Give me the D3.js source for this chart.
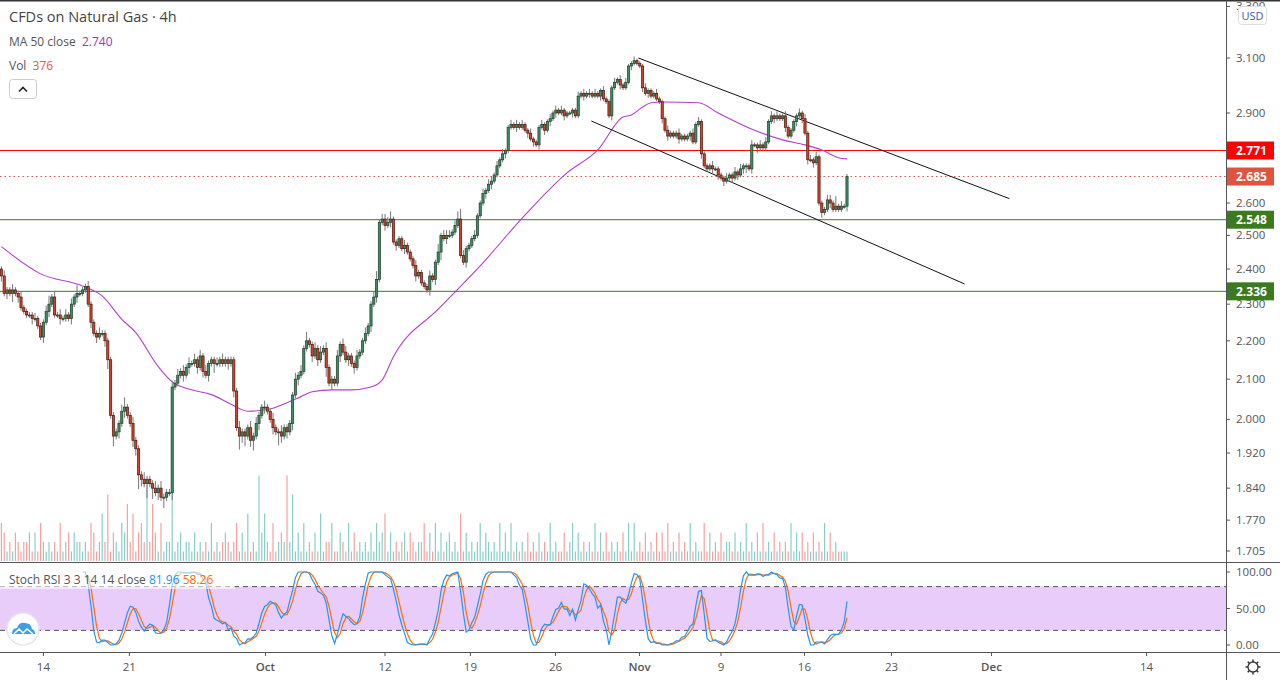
<!DOCTYPE html>
<html><head><meta charset="utf-8">
<script src="https://cdn.jsdelivr.net/npm/d3@7"></script>
<style>body{margin:0;background:#fff;overflow:hidden}svg{display:block;font-family:"Open Sans","DejaVu Sans",sans-serif}</style>
</head><body><svg id="c" width="1280" height="680"></svg>
<script>
const closes=[
2.38,2.33,2.34,2.33,2.34,2.33,2.32,2.29,2.28,2.27,
2.27,2.26,2.26,2.24,2.21,2.25,2.28,2.30,2.32,2.27,
2.27,2.26,2.26,2.27,2.26,2.30,2.32,2.33,2.33,2.34,
2.35,2.30,2.25,2.22,2.21,2.22,2.22,2.20,2.15,2.01,
1.96,1.97,1.99,2.02,2.03,2.01,1.99,1.95,1.93,1.87,
1.86,1.85,1.86,1.85,1.84,1.83,1.84,1.82,1.82,1.83,
1.83,2.08,2.09,2.11,2.12,2.11,2.13,2.14,2.14,2.15,
2.13,2.16,2.12,2.11,2.14,2.15,2.14,2.14,2.15,2.14,
2.15,2.14,2.15,2.07,1.98,1.96,1.97,1.96,1.98,1.95,
1.96,1.99,2.01,2.03,2.03,2.02,2.00,1.98,1.97,1.97,
1.96,1.98,1.97,1.99,2.06,2.10,2.11,2.12,2.18,2.20,
2.19,2.16,2.18,2.15,2.17,2.18,2.13,2.09,2.10,2.09,
2.16,2.19,2.17,2.15,2.16,2.14,2.13,2.16,2.17,2.20,
2.22,2.24,2.30,2.32,2.37,2.54,2.55,2.53,2.54,2.55,
2.48,2.47,2.49,2.46,2.47,2.45,2.43,2.41,2.38,2.39,
2.36,2.35,2.34,2.38,2.37,2.42,2.45,2.50,2.49,2.50,
2.50,2.51,2.53,2.55,2.44,2.42,2.46,2.47,2.49,2.50,
2.56,2.60,2.63,2.64,2.66,2.67,2.69,2.72,2.74,2.76,
2.77,2.85,2.86,2.85,2.86,2.85,2.86,2.84,2.83,2.81,
2.80,2.79,2.85,2.86,2.84,2.87,2.88,2.90,2.91,2.90,
2.91,2.89,2.90,2.90,2.91,2.89,2.96,2.97,2.96,2.97,
2.97,2.96,2.97,2.96,2.98,2.95,2.94,2.89,2.99,3.01,
3.02,3.00,2.99,3.01,3.07,3.08,3.09,3.08,3.07,2.99,
2.97,2.98,2.96,2.97,2.95,2.94,2.88,2.84,2.82,2.83,
2.82,2.83,2.81,2.82,2.81,2.82,2.83,2.80,2.86,2.87,
2.76,2.72,2.71,2.72,2.71,2.71,2.69,2.68,2.67,2.68,
2.69,2.68,2.70,2.69,2.71,2.72,2.72,2.71,2.79,2.79,
2.78,2.79,2.78,2.80,2.87,2.89,2.88,2.89,2.88,2.89,
2.85,2.82,2.84,2.87,2.89,2.90,2.88,2.83,2.74,2.74,
2.73,2.75,2.60,2.57,2.58,2.61,2.60,2.58,2.59,2.58,
2.59,2.59,2.685];
const firstOpen=2.40;
const wickUp="1211211211112111231212121213111211121111111231121112111212111212121212121211121211111211121211211211211112121311212121112122111211211231222311112111211112113122212342111211212212121121212112111211212121111121212121121112121211211121112111211121111212111121111211212111211212121211211112121212111221412111121211211111";
const wickDn="2121312111121112121112111212111121211231312121122421413121311211121211212121311112121423123121211214212121211112121131211211212111112121121212112111211112121312111111211111121211112111211121212121212112112111212111211121121112111212111121211121112111211121212112121231212111112111211121212121121121111121132111121";
const vol="4312132122313142121214123132212143125271321436251342826314122812312213121214121232124131512193521412329271314121315122411321413121213142351312123132122413141312312151312124132121413141212131213121412113124131212141313121213141412131213131412131214121141312131221312141213141213121214131312131214131211111";
const maIdx=[0,14,29,36,43,48,56,61,68,75,82,88,95,102,107,111,118,125,132,136,140,156,171,186,202,213,222,225,229,232,237,249,256,267,279,287,293,299,302];
const maVal=[2.466,2.386,2.351,2.323,2.258,2.222,2.132,2.093,2.073,2.061,2.037,2.020,2.024,2.041,2.056,2.068,2.073,2.073,2.080,2.098,2.158,2.286,2.409,2.553,2.697,2.773,2.886,2.893,2.921,2.936,2.939,2.936,2.900,2.848,2.807,2.790,2.773,2.747,2.743];
const levelPrices=[2.771,2.685,2.548,2.336];
const levelColors=["#ff0000","#e0533f","#3c7a1f","#3c7a1f"];
const trendUpper=[[227.5,3.10],[360,2.614]];
const trendLower=[[210.7,2.872],[344,2.357]];
const priceTicks=[1.705,1.77,1.84,1.92,2.0,2.1,2.2,2.3,2.4,2.5,2.6,2.9,3.1,3.3];
const stochTicks=[0,50,100];
const timeLabels=["14","21","Oct","12","19","26","Nov","9","16","23","Dec","14"];
const timeIdx=[15,45.7,94.3,137,167.5,197.9,227.9,257,286.8,317.9,353.6,409];

const svg=d3.select("#c");
const AX=1226, MAINB=562, ST0=563, ST1=652;
const x=d3.scaleLinear().domain([0,457]).range([1.4,1281]);
const y=d3.scaleLog().domain([1.705,3.1]).range([551,58]);
const ys=d3.scaleLinear().domain([0,100]).range([645,572]);

const data=closes.map((c,i)=>{const o=i?closes[i-1]:firstOpen;
 return {i,o,c,h:Math.max(o,c)+(+wickUp[i])*0.008,l:Math.min(o,c)-(+wickDn[i])*0.008,v:+vol[i]};});

const defs=svg.append("defs");
defs.append("clipPath").attr("id","cm").append("rect").attr("x",0).attr("y",0).attr("width",AX).attr("height",MAINB);
defs.append("clipPath").attr("id","cs").append("rect").attr("x",0).attr("y",ST0).attr("width",AX).attr("height",ST1-ST0);

// frame
svg.append("line").attr("x1",0).attr("x2",1280).attr("y1",0.5).attr("y2",0.5).attr("stroke","#333").attr("stroke-width",2);
svg.append("line").attr("x1",AX+.5).attr("x2",AX+.5).attr("y1",0).attr("y2",680).attr("stroke","#555");
svg.append("line").attr("x1",0).attr("x2",1280).attr("y1",MAINB+.5).attr("y2",MAINB+.5).attr("stroke","#555");
svg.append("line").attr("x1",0).attr("x2",1280).attr("y1",ST1+.5).attr("y2",ST1+.5).attr("stroke","#555");

const gm=svg.append("g").attr("clip-path","url(#cm)");
// volume
const vy=d3.scaleLinear().domain([0,10]).range([561,466]);
gm.selectAll(".v").data(data).join("rect").attr("x",d=>x(d.i)-0.6).attr("width",1.2)
 .attr("y",d=>vy(d.v)).attr("height",d=>561-vy(d.v))
 .attr("fill",d=>d.c>=d.o?"rgba(38,166,154,0.55)":"rgba(239,83,80,0.55)");
// levels
levelPrices.forEach((p,k)=>{gm.append("line").attr("x1",0).attr("x2",AX).attr("y1",y(p)).attr("y2",y(p))
 .attr("stroke",levelColors[k]).attr("stroke-width",1).attr("stroke-dasharray",k==1?"1.5,3":null);});
// MA
gm.append("path").datum(maIdx.map((d,k)=>[d,maVal[k]])).attr("fill","none").attr("stroke","#b33fd0").attr("stroke-width",1.1)
 .attr("d",d3.line().x(d=>x(d[0])).y(d=>y(d[1])).curve(d3.curveMonotoneX));
// trend lines
[trendUpper,trendLower].forEach(t=>gm.append("line").attr("x1",x(t[0][0])).attr("y1",y(t[0][1])).attr("x2",x(t[1][0])).attr("y2",y(t[1][1])).attr("stroke","#111").attr("stroke-width",1));
// candles
gm.selectAll(".w").data(data).join("line").attr("x1",d=>x(d.i)).attr("x2",d=>x(d.i)).attr("y1",d=>y(d.h)).attr("y2",d=>y(d.l)).attr("stroke","#777").attr("stroke-width",1);
gm.selectAll(".b").data(data).join("rect").attr("x",d=>x(d.i)-1.1).attr("width",2.2)
 .attr("y",d=>y(Math.max(d.o,d.c))).attr("height",d=>Math.max(1,Math.abs(y(d.o)-y(d.c))))
 .attr("fill",d=>d.c>=d.o?"#3d8f63":"#d5432a").attr("stroke",d=>d.c>=d.o?"#1d3d2a":"#4a140c").attr("stroke-width",0.7);

// price axis
const ax=svg.append("g");
priceTicks.forEach(p=>{const yy=y(p);
 ax.append("line").attr("x1",AX).attr("x2",AX+4).attr("y1",yy).attr("y2",yy).attr("stroke","#555");
 ax.append("text").attr("x",1236).attr("y",yy+4).attr("font-size",11.5).attr("fill","#555").text(d3.format(".3f")(p));});
levelPrices.forEach((p,k)=>{const yy=y(p);
 ax.append("rect").attr("x",AX+1).attr("y",yy-9).attr("width",47).attr("height",18).attr("fill",levelColors[k]);
 ax.append("text").attr("x",1236).attr("y",yy+4.5).attr("font-size",12).attr("font-weight","bold").attr("fill","#fff").text(p.toFixed(3));});
ax.append("rect").attr("x",1238.5).attr("y",6.5).attr("width",28).attr("height",18).attr("rx",3).attr("fill","#fff").attr("stroke","#ddd");
ax.append("text").attr("x",1252.5).attr("y",20).attr("text-anchor","middle").attr("font-size",11).attr("fill","#3a5ca8").text("USD");

// stoch pane
const gs=svg.append("g").attr("clip-path","url(#cs)");
gs.append("rect").attr("x",0).attr("width",AX).attr("y",ys(80)).attr("height",ys(20)-ys(80)).attr("fill","#e8cdfb");
[80,20].forEach(v=>gs.append("line").attr("x1",0).attr("x2",AX).attr("y1",ys(v)).attr("y2",ys(v)).attr("stroke","#555").attr("stroke-dasharray","5,4"));
// compute Stoch RSI from closes
const rsi=[];let ag=0,al=0;
for(let i=1;i<closes.length;i++){const ch=closes[i]-closes[i-1];const g=Math.max(ch,0),l=Math.max(-ch,0);
 if(i<=14){ag+=g/14;al+=l/14;if(i==14)rsi[i]=100-100/(1+ag/(al||1e-9));}
 else{ag=(ag*13+g)/14;al=(al*13+l)/14;rsi[i]=100-100/(1+ag/(al||1e-9));}}
const st=[];for(let i=27;i<closes.length;i++){const w=rsi.slice(i-13,i+1);const mn=d3.min(w),mx=d3.max(w);st[i]=mx>mn?(rsi[i]-mn)/(mx-mn)*100:50;}
const K=[],D=[];for(let i=29;i<closes.length;i++)K[i]=(st[i]+st[i-1]+st[i-2])/3;
for(let i=31;i<closes.length;i++)D[i]=(K[i]+K[i-1]+K[i-2])/3;
const sl=d3.line().defined(d=>d!=null).x((d,i)=>x(i)).y(d=>ys(d));
gs.append("path").attr("d",sl(Array.from({length:closes.length},(_,i)=>D[i]??null))).attr("fill","none").attr("stroke","#ff6d00").attr("stroke-width",1.2);
gs.append("path").attr("d",sl(Array.from({length:closes.length},(_,i)=>K[i]??null))).attr("fill","none").attr("stroke","#2196f3").attr("stroke-width",1.2);
stochTicks.forEach(v=>{ax.append("line").attr("x1",AX).attr("x2",AX+4).attr("y1",ys(v)).attr("y2",ys(v)).attr("stroke","#555");
 ax.append("text").attr("x",1236).attr("y",ys(v)+4).attr("font-size",11.5).attr("fill","#555").text(v.toFixed(2));});
svg.append("rect").attr("x",0).attr("y",570).attr("width",235).attr("height",19).attr("fill","rgba(255,255,255,0.6)");
const stl=svg.append("text").attr("x",9).attr("y",584).attr("font-size",12);
stl.append("tspan").attr("fill","#555").text("Stoch RSI 3 3 14 14 close ");
stl.append("tspan").attr("fill","#2196f3").text(" 81.96 ");
stl.append("tspan").attr("fill","#ff6d00").text(" 58.26");
// logo
svg.append("circle").attr("cx",23).attr("cy",629).attr("r",16).attr("fill","#fff").attr("stroke","#e4e4ee").attr("stroke-width",1.5);
svg.append("path").attr("d","M12,634 Q12,628 17,628 Q19,622 25,623 Q31,623 32,629 Q35,630 35,634 Z").attr("fill","#3ba0e8");
svg.append("path").attr("d","M14,634 L19,629 L23,633 L27,629 L33,634").attr("fill","none").attr("stroke","#fff").attr("stroke-width",1.5);

// time axis
timeLabels.forEach((t,k)=>{const xx=x(timeIdx[k]);
 svg.append("line").attr("x1",xx).attr("x2",xx).attr("y1",ST1).attr("y2",ST1+4).attr("stroke","#555");
 svg.append("text").attr("x",xx).attr("y",671).attr("text-anchor","middle").attr("font-size",11.5)
  .attr("font-weight",isNaN(+t)?"600":"normal").attr("fill","#555").text(t);});
// gear
const gg=svg.append("g").attr("transform","translate(1253,667)");
gg.append("circle").attr("r",5).attr("fill","none").attr("stroke","#333").attr("stroke-width",1.3);
d3.range(8).forEach(k=>{const a=k*Math.PI/4;gg.append("line").attr("x1",5*Math.cos(a)).attr("y1",5*Math.sin(a)).attr("x2",7.5*Math.cos(a)).attr("y2",7.5*Math.sin(a)).attr("stroke","#333").attr("stroke-width",1.5);});

// legend
const t1=svg.append("text").attr("x",9).attr("y",22).attr("font-size",14.5).attr("fill","#444").text("CFDs on Natural Gas · 4h");
const t2=svg.append("text").attr("x",9).attr("y",46).attr("font-size",12).attr("fill","#555");
t2.append("tspan").text("MA 50 close ");t2.append("tspan").attr("dx",3).attr("fill","#a82fc4").text("2.740");
const t3=svg.append("text").attr("x",9).attr("y",70).attr("font-size",12).attr("fill","#555");
t3.append("tspan").text("Vol ");t3.append("tspan").attr("dx",3).attr("fill","#ef5350").text("376");
svg.append("rect").attr("x",9.5).attr("y",79.5).attr("width",27).attr("height",19).attr("rx",3).attr("fill","#fff").attr("stroke","#ccc");
svg.append("path").attr("d","M19,91.5 L23,87.5 L27,91.5").attr("fill","none").attr("stroke","#222").attr("stroke-width",1.6);
</script></body></html>
